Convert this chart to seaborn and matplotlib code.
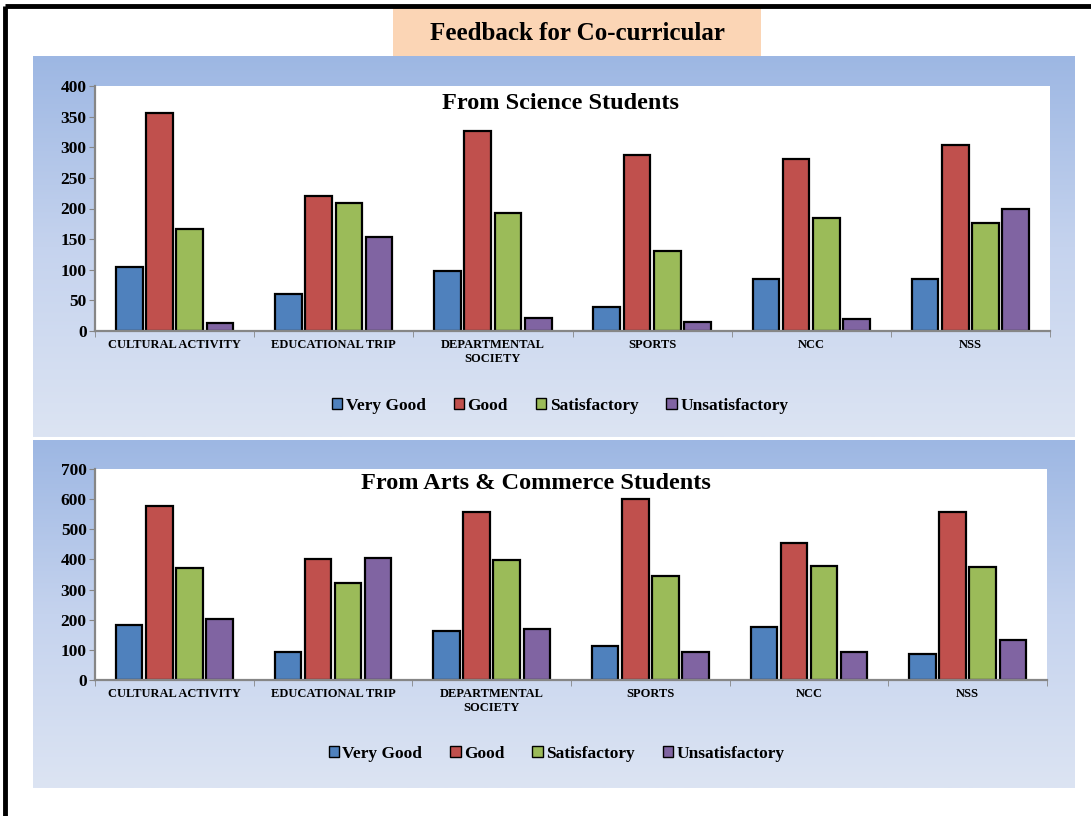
import numpy as np
import pandas as pd
import matplotlib
matplotlib.use('Agg')
import matplotlib.pyplot as plt
import seaborn as sns
from matplotlib.patches import Rectangle
from matplotlib.colors import LinearSegmentedColormap

sns.set_style('white')
plt.rcParams['font.family'] = ['Liberation Serif', 'DejaVu Serif']
plt.rcParams['font.weight'] = 'bold'
plt.rcParams['text.color'] = 'black'
plt.rcParams['xtick.labelcolor'] = 'black'
plt.rcParams['ytick.labelcolor'] = 'black'

# ---- data ----
activities = ['CULTURAL ACTIVITY', 'EDUCATIONAL TRIP', 'DEPARTMENTAL\nSOCIETY',
              'SPORTS', 'NCC', 'NSS']
ratings = ['Very Good', 'Good', 'Satisfactory', 'Unsatisfactory']
colors = ['#4F81BD', '#C0504D', '#9BBB59', '#8064A2']

sci_very_good = [105, 60, 98, 39, 85, 85]
sci_good = [356, 220, 327, 287, 281, 304]
sci_satisfactory = [166, 209, 193, 131, 185, 177]
sci_unsatisfactory = [13, 153, 21, 15, 20, 200]

arts_very_good = [182, 94, 163, 112, 176, 87]
arts_good = [578, 401, 558, 602, 455, 559]
arts_satisfactory = [373, 321, 398, 345, 377, 375]
arts_unsatisfactory = [202, 405, 169, 92, 92, 132]


def to_long(series):
    rows = []
    for rating, vals in zip(ratings, series):
        for act, v in zip(activities, vals):
            rows.append({'Activity': act, 'Rating': rating, 'Count': v})
    return pd.DataFrame(rows)


sci_df = to_long([sci_very_good, sci_good, sci_satisfactory, sci_unsatisfactory])
arts_df = to_long([arts_very_good, arts_good, arts_satisfactory, arts_unsatisfactory])

W, H = 1091, 816
fig = plt.figure(figsize=(W / 100, H / 100), dpi=100)

# ---- background: frame, title box, gradient panels ----
bg = fig.add_axes([0, 0, 1, 1])
bg.set_xlim(0, W)
bg.set_ylim(H, 0)
bg.axis('off')
bg.plot([5, W], [6, 6], color='black', lw=3.5, solid_capstyle='butt')
bg.plot([5, 5], [6, H], color='black', lw=3.5, solid_capstyle='butt')

bg.add_patch(Rectangle((393, 8), 368, 48, facecolor='#FBD5B5', edgecolor='none'))
bg.text(577, 33, 'Feedback for Co-curricular', ha='center', va='center',
        fontsize=18, fontweight='bold', color='black')

grad = LinearSegmentedColormap.from_list('panel', ['#9DB7E3', '#C5D3EE', '#DCE4F3'])
g = np.linspace(0, 1, 256).reshape(-1, 1)
bg.imshow(g, cmap=grad, extent=(33, 1075, 437, 56), aspect='auto', origin='upper')
bg.imshow(g, cmap=grad, extent=(33, 1075, 788, 440), aspect='auto', origin='upper')
bg.set_xlim(0, W)
bg.set_ylim(H, 0)


def draw_panel(df, rect, ymax, ystep, title, title_xy, leg_anchor):
    ax = fig.add_axes(rect)
    sns.barplot(data=df, x='Activity', y='Count', hue='Rating', palette=colors,
                saturation=1, width=0.76, gap=0.12, edgecolor='black',
                linewidth=1.6, ax=ax)
    ax.set_facecolor('white')
    ax.set_xlim(-0.5, 5.5)
    ax.set_ylim(0, ymax)
    ax.set_yticks(np.arange(0, ymax + 1, ystep))
    ax.set_xlabel('')
    ax.set_ylabel('')
    for s in ['top', 'right']:
        ax.spines[s].set_visible(False)
    for s in ['left', 'bottom']:
        ax.spines[s].set_color('#868686')
        ax.spines[s].set_linewidth(1.6)
    ax.tick_params(axis='y', labelsize=12.5, length=4, color='#868686', left=True,
                   pad=2, labelcolor='black')
    ax.tick_params(axis='x', labelsize=9, length=0, pad=6, labelcolor='black')
    ax.set_xticks(np.arange(-0.5, 6, 1), minor=True)
    ax.tick_params(axis='x', which='minor', length=4, color='#868686', bottom=True)
    for lab in ax.get_xticklabels() + ax.get_yticklabels():
        lab.set_fontweight('bold')
    ax.text(title_xy[0], title_xy[1], title, transform=ax.transAxes,
            ha='center', va='center', fontsize=17.5, fontweight='bold', color='black')
    leg = ax.legend(loc='center', bbox_to_anchor=leg_anchor, ncol=4, frameon=False,
                    handlelength=0.6, handleheight=0.6, handletextpad=0.2,
                    columnspacing=1.6, prop={'weight': 'bold', 'size': 12.5})
    for t in leg.get_texts():
        t.set_color('black')
    for p in leg.get_patches():
        p.set_edgecolor('black')
        p.set_linewidth(1.0)
    return ax


draw_panel(sci_df, [95 / W, 1 - 331 / H, 955 / W, 245 / H], 400, 50,
           'From Science Students', (0.487, 0.93), (0.487, -0.306))
draw_panel(arts_df, [95 / W, 1 - 680 / H, 952 / W, 211 / H], 700, 100,
           'From Arts & Commerce Students', (0.463, 0.93), (0.485, -0.35))

fig.savefig('out.png', dpi=100)
